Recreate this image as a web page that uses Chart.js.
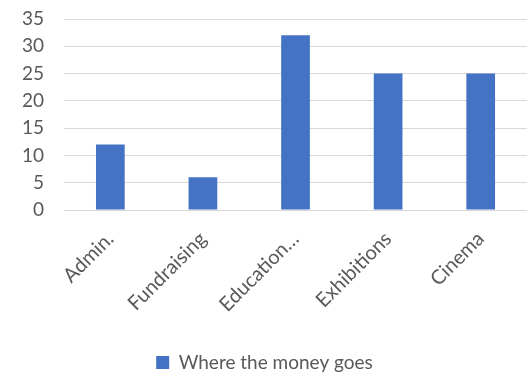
<!DOCTYPE html>
<html><head><meta charset="utf-8">
<script src="https://cdn.jsdelivr.net/npm/chart.js@4"></script>
<style>html,body{margin:0;padding:0;background:#fff}#wrap{width:530px;height:377px}canvas{display:block}</style>
</head><body><div id="wrap"><canvas id="c"></canvas></div>
<script>
const categories = ["Admin.", "Fundraising", "Education…", "Exhibitions", "Cinema"];
const values = [12, 6, 32, 25, 25];
const seriesName = "Where the money goes";
const yTicks = [0, 5, 10, 15, 20, 25, 30, 35];

Chart.defaults.font.family = "Lato, 'Open Sans', sans-serif";
Chart.defaults.color = "#595959";
new Chart(document.getElementById('c'), {
  type: 'bar',
  data: { labels: categories, datasets: [{ label: seriesName, data: values, backgroundColor: '#4472C4', borderWidth: 0, barPercentage: 0.31, categoryPercentage: 1 }] },
  options: {
    responsive: true, maintainAspectRatio: false, animation: false,
    layout: { padding: { left: 2, right: 3, top: 0, bottom: -5 } },
    plugins: {
      tooltip: { enabled: false },
      legend: { position: 'bottom', labels: { boxWidth: 13, boxHeight: 13, font: { size: 19 }, color: '#595959', padding: 1 } }
    },
    scales: {
      x: { grid: { display: false, drawTicks: false }, border: { display: false },
           afterFit: (s) => { s.height = 142; },
           ticks: { font: { size: 20 }, color: '#595959', minRotation: 45, maxRotation: 45, padding: 17 } },
      y: { min: 0, max: 35, grid: { color: '#d9d9d9', lineWidth: 1, drawTicks: false }, border: { display: false },
           afterBuildTicks: (s) => { s.ticks = yTicks.map(v => ({ value: v })); },
           afterFit: (s) => { s.paddingTop = 19; s.paddingBottom = 0; },
           ticks: { autoSkip: false, font: { size: 19 }, color: '#595959', padding: 20 } }
    }
  }
});
</script></body></html>
